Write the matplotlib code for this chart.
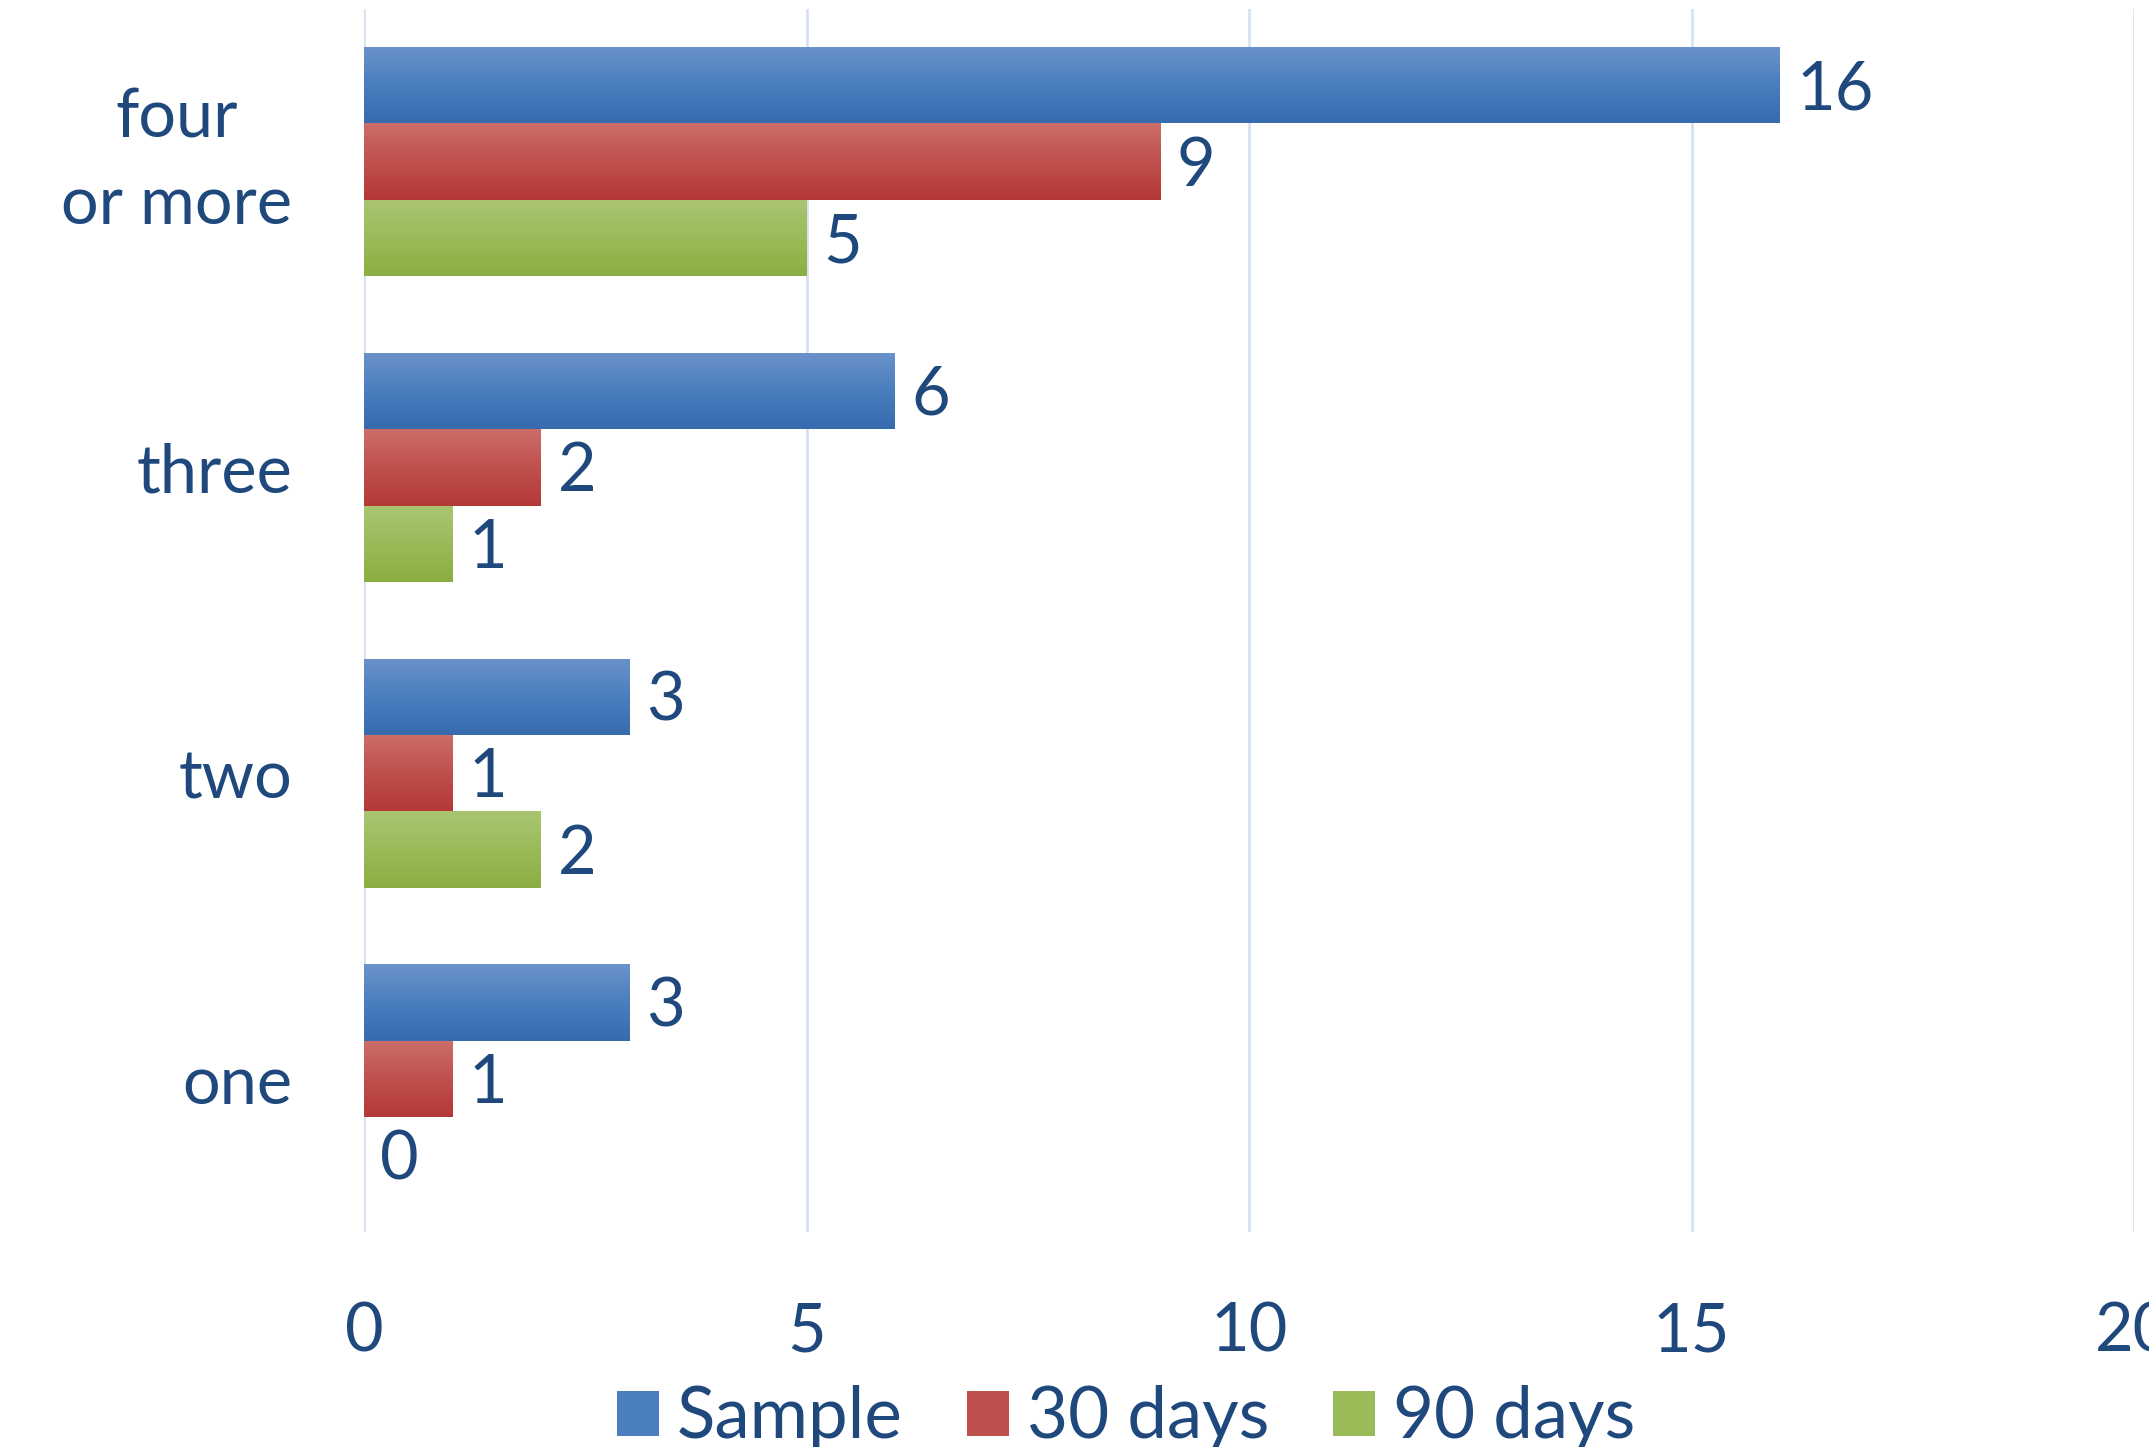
import numpy as np
import matplotlib
matplotlib.use("Agg")
import matplotlib.pyplot as plt
from matplotlib.colors import LinearSegmentedColormap
from matplotlib.patches import Patch

categories = ["one", "two", "three", "four\nor more"]
series_names = ["Sample", "30 days", "90 days"]
sample = [3, 3, 6, 16]
days30 = [1, 1, 2, 9]
days90 = [0, 2, 1, 5]
x_ticks = [0, 5, 10, 15, 20]

plt.rcParams['font.family'] = ['Lato', 'DejaVu Sans']
TXT = "#1F497D"
FS = 48

grads = [("#6B92C9", "#4A7EBF", "#386BAE"),
         ("#CB6D69", "#C0504D", "#B33937"),
         ("#A9C573", "#9BBB59", "#8AAE43")]
mids = [g[1] for g in grads]

fig = plt.figure(figsize=(21.49, 14.47), dpi=100)
ax = fig.add_axes([0.1696, 0.1486, 0.993 - 0.1696, 0.994 - 0.1486])

h = 0.25
y = np.arange(len(categories))
data = [sample, days30, days90]
offsets = [h, 0, -h]
for k, (vals, off) in enumerate(zip(data, offsets)):
    bars = ax.barh(y + off, vals, height=h, color=mids[k], zorder=2)
    cmap = LinearSegmentedColormap.from_list("g%d" % k, list(grads[k]))
    for b, v in zip(bars, vals):
        x0, y0 = b.get_x(), b.get_y()
        w, hh = b.get_width(), b.get_height()
        if w > 0:
            grad = np.linspace(0, 1, 100).reshape(-1, 1)
            im = ax.imshow(grad, cmap=cmap, aspect='auto',
                           extent=[x0, x0 + w, y0, y0 + hh], origin='upper',
                           zorder=3, interpolation='bilinear')
            im.set_clip_path(b)
        ax.annotate(str(v), xy=(x0 + w, y0 + hh / 2), xytext=(16, -5),
                    textcoords='offset pixels', va='center', ha='left',
                    fontsize=FS, color=TXT, zorder=4)

ax.set_xlim(0, 20)
ax.set_ylim(-0.5, len(categories) - 0.5)
ax.set_xticks(x_ticks)
ax.set_xticklabels([str(t) for t in x_ticks], fontsize=FS, color=TXT)
ax.set_yticks(y)
ax.set_yticklabels(categories, fontsize=FS, color=TXT, ha='right',
                   multialignment='center', linespacing=1.5)
for lab in ax.get_yticklabels():
    if "\n" in lab.get_text():
        lab.set_va('center')
ax.tick_params(axis='both', length=0)
ax.tick_params(axis='x', pad=50)
ax.tick_params(axis='y', pad=52)
for s in ax.spines.values():
    s.set_visible(False)
ax.grid(axis='x', color="#D6E2F0", linewidth=2, zorder=0)
ax.set_axisbelow(True)

handles = [Patch(facecolor=mids[k], edgecolor='none') for k in range(3)]
fig.legend(handles, series_names, loc='center', bbox_to_anchor=(0.524, 1 - 1418 / 1447),
           ncol=3, frameon=False, fontsize=51, labelcolor=TXT,
           handlelength=0.6, handleheight=0.6, handletextpad=0.25,
           columnspacing=0.9, borderpad=0, borderaxespad=0)

fig.savefig("out.png", dpi=100)
